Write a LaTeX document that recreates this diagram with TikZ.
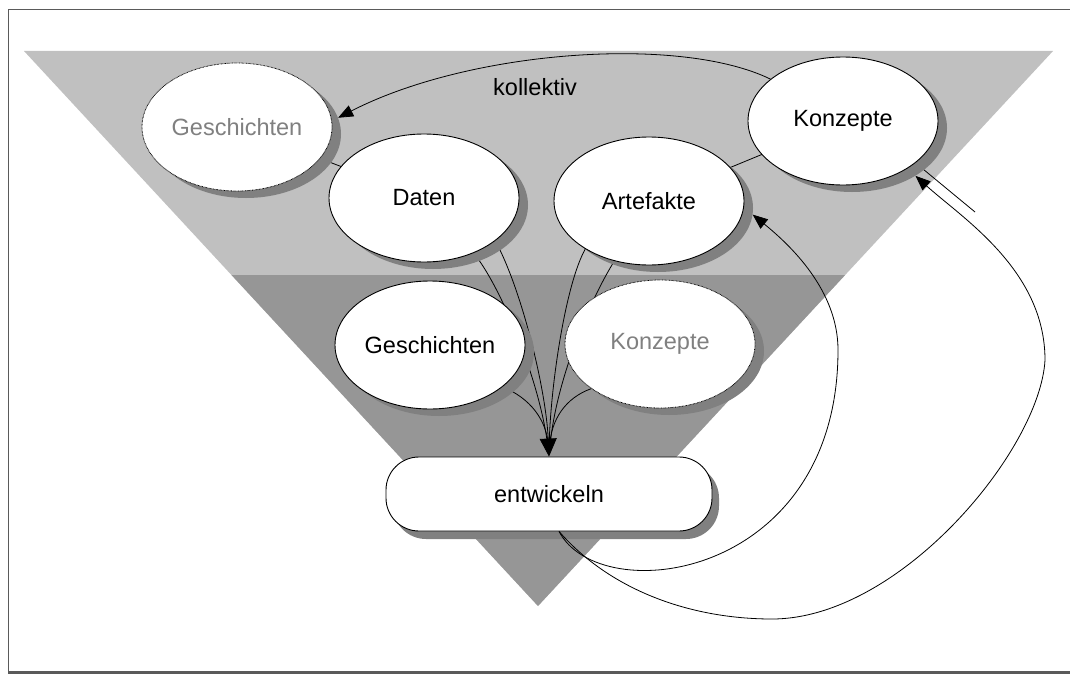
\documentclass[tikz,border=0pt]{standalone}
\usepackage{fontspec}
\setmainfont{Liberation Sans}
\usetikzlibrary{arrows.meta,shapes.geometric}
\definecolor{lightband}{HTML}{C0C0C0}
\definecolor{darkband}{HTML}{969696}
\definecolor{shade}{HTML}{808080}
\definecolor{framecol}{HTML}{5A5A5A}
\definecolor{greytext}{HTML}{808080}
\pgfdeclarelayer{back}
\pgfdeclarelayer{lines}
\pgfsetlayers{back,lines,main}
\begin{document}
\begin{tikzpicture}[x=1pt,y=-1pt,
  every node/.style={font=\fontsize{23.5}{28}\selectfont},
  oval/.style={ellipse, draw=black, line width=0.9pt, fill=white,
    minimum width=190pt, minimum height=128pt, inner sep=0pt},
  dotoval/.style={oval, line width=0.8pt, dash pattern=on 0.7pt off 0.7pt, text=greytext},
  ovalshadow/.style={ellipse, fill=shade, minimum width=190pt, minimum height=128pt, inner sep=0pt},
  entbox/.style={rectangle, rounded corners=33pt, draw=black, line width=0.9pt, fill=white,
    minimum width=326pt, minimum height=74pt, inner sep=0pt},
  boxshadow/.style={rectangle, rounded corners=33pt, fill=shade,
    minimum width=326pt, minimum height=74pt, inner sep=0pt},
  conn/.style={draw=black, line width=0.8pt},
  bigtip/.style={-{Triangle[length=18pt,width=17pt]}},
  smalltip/.style={-{Triangle[length=15pt,width=12pt]}}
]
\useasboundingbox (0,0) rectangle (1070,677);

\begin{pgfonlayer}{back}
  \fill[white] (0,0) rectangle (1070,677);
  \fill[lightband] (24,51) -- (1053,51) -- (538,606) -- cycle;
  \fill[darkband] (231.5,275) -- (845.1,275) -- (538,606) -- cycle;
  \draw[framecol, line width=1pt] (1071,10) -- (8,10) -- (8,673);
  \draw[framecol, line width=3pt] (8,672) -- (1071,672);
\end{pgfonlayer}

% ellipses with their shadows
\node[ovalshadow] (g1s) at (246,134) {};
\node[dotoval] (g1) at (237,127) {Geschichten};
\node[ovalshadow] (dats) at (433,205) {};
\node[oval] (dat) at (424,198) {Daten};
\node[ovalshadow] (arts) at (658,208) {};
\node[oval] (art) at (649,201) {Artefakte};
\node[ovalshadow] (kons) at (852,128) {};
\node[oval] (kon) at (843,121) {Konzepte};
\node[ovalshadow] (gess) at (439,352) {};
\node[oval] (ges) at (430,345) {Geschichten};
\node[ovalshadow] (kon2s) at (669,351) {};
\node[dotoval] (kon2) at (660,344) {Konzepte};
\node[boxshadow] (ents) at (556,502) {};
\node[entbox] (ent) at (549,494) {entwickeln};

\node (kol) at (535,87) {kollektiv};
\coordinate (kend) at (975,212);

\begin{pgfonlayer}{lines}
  \draw[conn] (g1.center) -- (dat.center);
  \draw[conn] (art.center) -- (kon.center);
  \draw[conn] (kon.-30) -- (kend);
  \draw[conn, bigtip] (dat.-31) .. controls (522,290) and (546,390) .. (ent.north);
  \draw[conn, shorten >=10pt] (dat.-48) .. controls (500,285) and (540,380) .. (ent.north);
  \draw[conn, shorten >=10pt] (art.-143) .. controls (565,285) and (550,390) .. (ent.north);
  \draw[conn, shorten >=10pt] (art.-120) .. controls (590,300) and (556,380) .. (ent.north);
  \draw[conn, shorten >=10pt] (ges.-30) .. controls (530,398) and (547,420) .. (ent.north);
  \draw[conn, shorten >=10pt] (kon2.-147) .. controls (565,398) and (551,420) .. (ent.north);
\end{pgfonlayer}

% arrows on top
\draw[conn, smalltip] (kon.150) .. controls (680,35) and (470,50) .. (g1s.10);
\draw[conn, smalltip] (ent.-75) .. controls (600,610) and (838,580) .. (838,350)
   .. controls (838,290) and (790,245) .. (arts.-4);
\draw[conn, smalltip] (ent.-75) .. controls (610,590) and (690,619) .. (772,619)
   .. controls (900,619) and (1040,450) .. (1045,360)
   .. controls (1045,270) and (962,218) .. (kons.-37);
\end{tikzpicture}
\end{document}
